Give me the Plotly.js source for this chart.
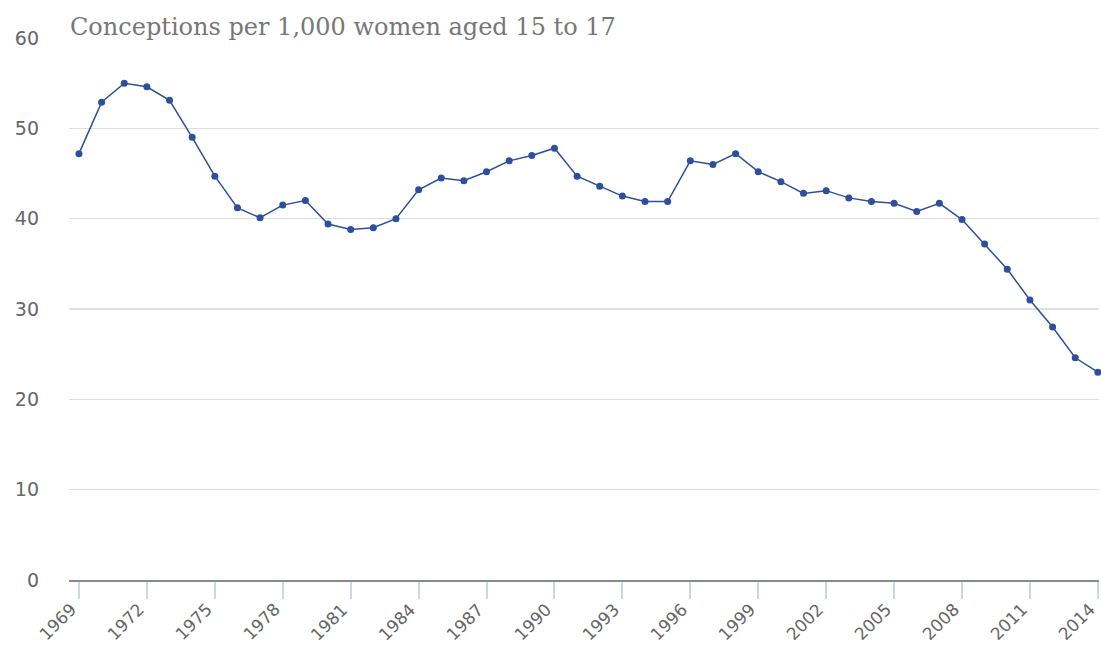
<!DOCTYPE html>
<html>
<head>
<meta charset="utf-8">
<script src="https://cdn.plot.ly/plotly-3.0.1.min.js"></script>
<style>html,body{margin:0;padding:0;background:#fff;}#chart{width:1101px;height:647px;}</style>
</head>
<body>
<div id="chart"></div>
<script>
const years = [1969,1970,1971,1972,1973,1974,1975,1976,1977,1978,1979,1980,1981,1982,1983,1984,1985,1986,1987,1988,1989,1990,1991,1992,1993,1994,1995,1996,1997,1998,1999,2000,2001,2002,2003,2004,2005,2006,2007,2008,2009,2010,2011,2012,2013,2014];
const conceptionRate = [47.2,52.9,55.0,54.6,53.1,49.0,44.7,41.2,40.1,41.5,42.0,39.4,38.8,39.0,40.0,43.2,44.5,44.2,45.2,46.4,47.0,47.8,44.7,43.6,42.5,41.9,41.9,46.4,46.0,47.2,45.2,44.1,42.8,43.1,42.3,41.9,41.7,40.8,41.7,39.9,37.2,34.4,31.0,28.0,24.6,23.0];
const xTickYears = [1969,1972,1975,1978,1981,1984,1987,1990,1993,1996,1999,2002,2005,2008,2011,2014];
const yTicks = [0,10,20,30,40,50,60];
const chartTitle = "Conceptions per 1,000 women aged 15 to 17";

const trace = {
  x: years, y: conceptionRate, type: 'scatter', mode: 'lines+markers',
  line: {color: '#2d4f9e', width: 1.5},
  marker: {color: '#2d4f9e', size: 7},
  cliponaxis: false,
  hoverinfo: 'x+y'
};

const tickLabelAnnotations = xTickYears.map(yr => ({
  text: String(yr), xref: 'x', yref: 'paper', x: yr, y: 0,
  xanchor: 'right', yanchor: 'top', yshift: -18, xshift: 2,
  textangle: -45, showarrow: false, borderpad: 0,
  font: {family: 'DejaVu Sans, sans-serif', size: 17, color: '#666'}
}));

const layout = {
  width: 1101, height: 647,
  margin: {l: 69, r: 2, t: 38, b: 67},
  paper_bgcolor: '#fff', plot_bgcolor: '#fff',
  showlegend: false,
  xaxis: {
    range: [1968.56, 2014.05],
    tickvals: xTickYears, showticklabels: false,
    ticks: 'outside', ticklen: 17, tickwidth: 2, tickcolor: '#ccd6eb',
    showgrid: false, zeroline: false,
    showline: true, linecolor: '#8a8a8a', linewidth: 2
  },
  yaxis: {
    range: [0, 60], tickvals: yTicks,
    showgrid: true, gridcolor: '#dedede', gridwidth: 1.5,
    zeroline: false, showline: false, ticks: '',
    ticklabelstandoff: 29,
    tickfont: {family: 'DejaVu Sans, sans-serif', size: 19, color: '#666'}
  },
  annotations: [{
    text: chartTitle, xref: 'paper', yref: 'paper', x: 0, y: 1,
    xanchor: 'left', yanchor: 'bottom', yshift: -5, xshift: -1, showarrow: false,
    font: {family: 'DejaVu Serif, serif', size: 24, color: '#777'}
  }].concat(tickLabelAnnotations)
};
Plotly.newPlot('chart', [trace], layout, {displayModeBar: false, staticPlot: true});
</script>
</body>
</html>
